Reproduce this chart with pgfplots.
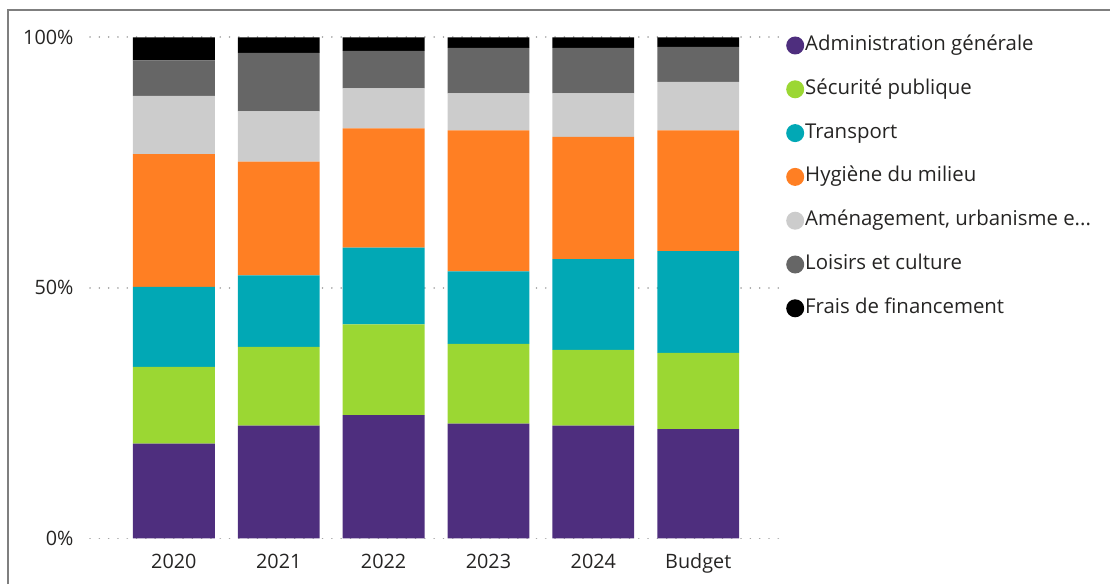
\documentclass[border=0pt]{standalone}
\usepackage{pgfplots}
\pgfplotsset{compat=1.18}
\usepackage{fontspec}
\setmainfont{Open Sans}

\definecolor{cAdmin}{HTML}{4E2E7E}
\definecolor{cSecu}{HTML}{9BD733}
\definecolor{cTrans}{HTML}{01A8B5}
\definecolor{cHyg}{HTML}{FF7F23}
\definecolor{cAmen}{HTML}{CCCCCC}
\definecolor{cLoisir}{HTML}{666666}
\definecolor{cFrais}{HTML}{000000}
\definecolor{txt}{HTML}{252423}
\definecolor{frame}{HTML}{7F7F7F}

\begin{document}
\begin{tikzpicture}
\useasboundingbox (0,0) rectangle (1110pt,584pt);
\draw[frame, line width=1.6pt] (8pt,0pt) -- (8pt,574pt) -- (1110pt,574pt);
\begin{axis}[
  at={(90pt,45.7pt)}, anchor=south west,
  scale only axis,
  width=690pt, height=501pt,
  ybar stacked,
  bar width=0.78,
  xmin=-0.8, xmax=5.78,
  ymin=0, ymax=100,
  axis line style={draw=none},
  tick style={draw=none},
  xtick={0,...,5},
  xticklabels={2020,2021,2022,2023,2024,Budget},
  ytick={0,50,100},
  yticklabels={0\%,50\%,100\%},
  ymajorgrids,
  grid style={black!35, line width=1.6pt, dash pattern=on 0.1pt off 9.2pt, line cap=round},
  font=\fontsize{19.8}{24}\selectfont,
  ticklabel style={text=txt},
  yticklabel style={xshift=-13pt},
  xticklabel style={yshift=-12pt},
  /pgf/number format/assume math mode=true,
  legend style={at={(1,1)}, anchor=north west, xshift=6pt, yshift=3pt,
    draw=none, fill=none, inner sep=0pt,
    font=\fontsize{20.4}{24}\selectfont, text=txt,
    row sep=21.8pt,
    nodes={inner sep=1pt, text height=15pt, text depth=5pt}},
  legend cell align=left,
  legend image code/.code={\fill[#1] (5pt,0pt) circle (9pt);},
]
\addplot[fill=cAdmin, draw=none] coordinates {(0,18.9) (1,22.5) (2,24.6) (3,22.9) (4,22.5) (5,21.8)};
\addlegendentry{Administration générale}
\addplot[fill=cSecu, draw=none] coordinates {(0,15.3) (1,15.7) (2,18.1) (3,15.9) (4,15.1) (5,15.2)};
\addlegendentry{Sécurité publique}
\addplot[fill=cTrans, draw=none] coordinates {(0,16.0) (1,14.3) (2,15.3) (3,14.5) (4,18.1) (5,20.3)};
\addlegendentry{Transport}
\addplot[fill=cHyg, draw=none] coordinates {(0,26.5) (1,22.7) (2,23.8) (3,28.1) (4,24.4) (5,24.1)};
\addlegendentry{Hygiène du milieu}
\addplot[fill=cAmen, draw=none] coordinates {(0,11.6) (1,10.0) (2,8.0) (3,7.4) (4,8.7) (5,9.7)};
\addlegendentry{Aménagement, urbanisme e...}
\addplot[fill=cLoisir, draw=none] coordinates {(0,7.1) (1,11.7) (2,7.5) (3,9.1) (4,9.1) (5,7.0)};
\addlegendentry{Loisirs et culture}
\addplot[fill=cFrais, draw=none] coordinates {(0,4.6) (1,3.1) (2,2.7) (3,2.1) (4,2.1) (5,1.9)};
\addlegendentry{Frais de financement}
\end{axis}
\end{tikzpicture}
\end{document}
